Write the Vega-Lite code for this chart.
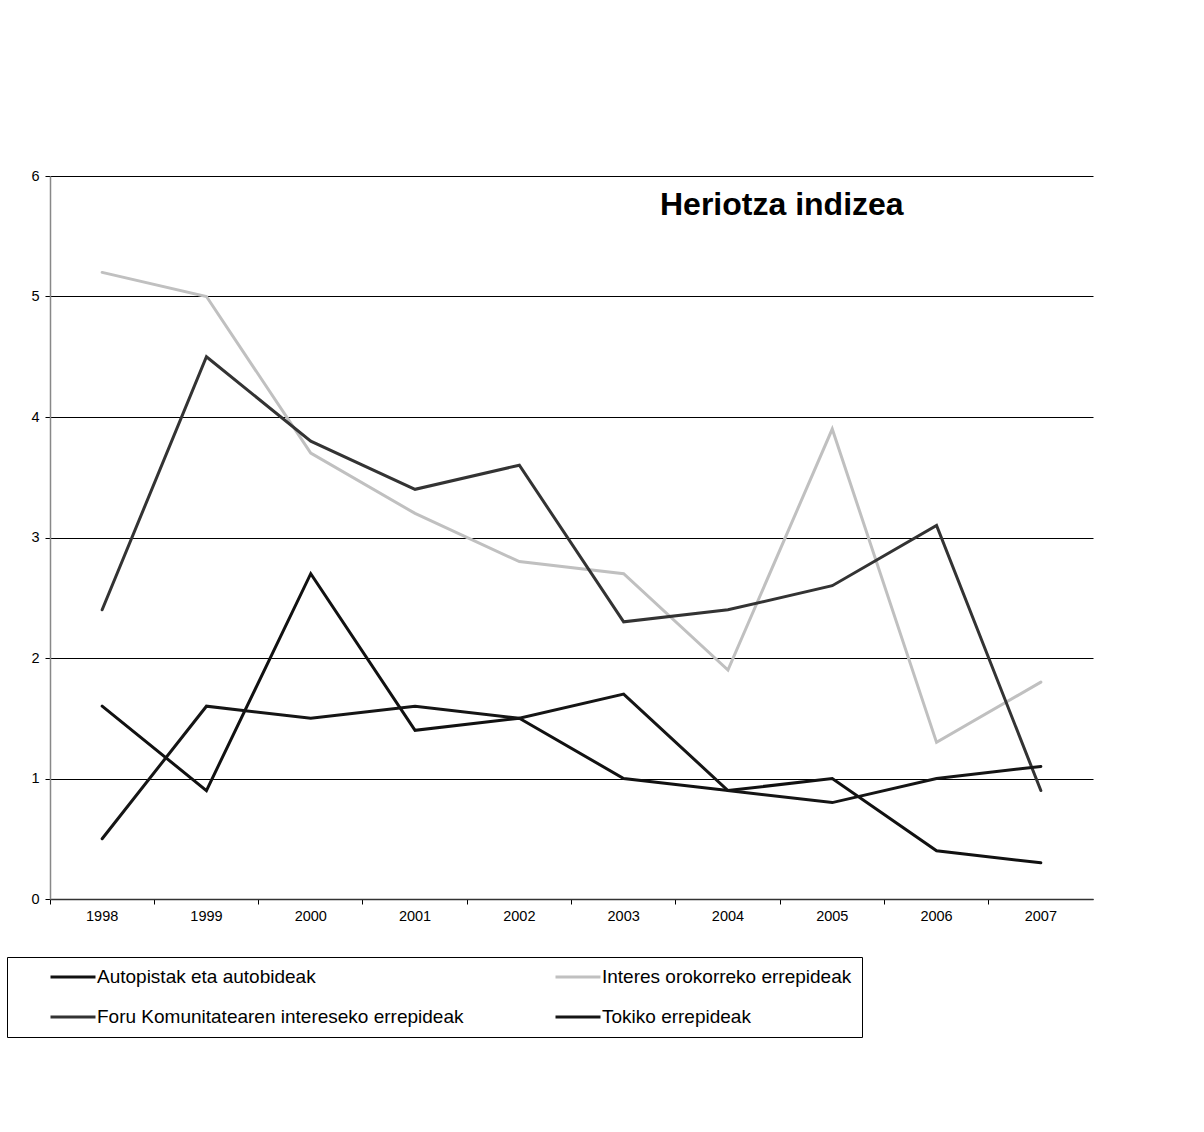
{
  "$schema": "https://vega.github.io/schema/vega-lite/v6.json",
  "width": 1043,
  "height": 723,
  "autosize": {"type": "none"},
  "padding": {"left": 50, "top": 176, "right": 111, "bottom": 233},
  "background": "white",
  "config": {
    "font": "Liberation Sans",
    "view": {"stroke": null},
    "axis": {"labelFont": "Liberation Sans", "labelColor": "#000", "labelFontSize": 14.5, "tickColor": "#000", "tickSize": 5}
  },
  "title": {
    "text": "Heriotza indizea",
    "anchor": "start",
    "frame": "group",
    "orient": "top",
    "offset": 0,
    "dx": 610,
    "dy": 79,
    "baseline": "alphabetic",
    "font": "Liberation Sans",
    "fontSize": 32,
    "fontWeight": "bold",
    "color": "#000"
  },
  "data": {
    "values": [
      {"year": "1998", "series": "Autopistak eta autobideak", "value": 1.6},
      {"year": "1999", "series": "Autopistak eta autobideak", "value": 0.9},
      {"year": "2000", "series": "Autopistak eta autobideak", "value": 2.7},
      {"year": "2001", "series": "Autopistak eta autobideak", "value": 1.4},
      {"year": "2002", "series": "Autopistak eta autobideak", "value": 1.5},
      {"year": "2003", "series": "Autopistak eta autobideak", "value": 1.0},
      {"year": "2004", "series": "Autopistak eta autobideak", "value": 0.9},
      {"year": "2005", "series": "Autopistak eta autobideak", "value": 1.0},
      {"year": "2006", "series": "Autopistak eta autobideak", "value": 0.4},
      {"year": "2007", "series": "Autopistak eta autobideak", "value": 0.3},
      {"year": "1998", "series": "Interes orokorreko errepideak", "value": 5.2},
      {"year": "1999", "series": "Interes orokorreko errepideak", "value": 5.0},
      {"year": "2000", "series": "Interes orokorreko errepideak", "value": 3.7},
      {"year": "2001", "series": "Interes orokorreko errepideak", "value": 3.2},
      {"year": "2002", "series": "Interes orokorreko errepideak", "value": 2.8},
      {"year": "2003", "series": "Interes orokorreko errepideak", "value": 2.7},
      {"year": "2004", "series": "Interes orokorreko errepideak", "value": 1.9},
      {"year": "2005", "series": "Interes orokorreko errepideak", "value": 3.9},
      {"year": "2006", "series": "Interes orokorreko errepideak", "value": 1.3},
      {"year": "2007", "series": "Interes orokorreko errepideak", "value": 1.8},
      {"year": "1998", "series": "Foru Komunitatearen intereseko errepideak", "value": 2.4},
      {"year": "1999", "series": "Foru Komunitatearen intereseko errepideak", "value": 4.5},
      {"year": "2000", "series": "Foru Komunitatearen intereseko errepideak", "value": 3.8},
      {"year": "2001", "series": "Foru Komunitatearen intereseko errepideak", "value": 3.4},
      {"year": "2002", "series": "Foru Komunitatearen intereseko errepideak", "value": 3.6},
      {"year": "2003", "series": "Foru Komunitatearen intereseko errepideak", "value": 2.3},
      {"year": "2004", "series": "Foru Komunitatearen intereseko errepideak", "value": 2.4},
      {"year": "2005", "series": "Foru Komunitatearen intereseko errepideak", "value": 2.6},
      {"year": "2006", "series": "Foru Komunitatearen intereseko errepideak", "value": 3.1},
      {"year": "2007", "series": "Foru Komunitatearen intereseko errepideak", "value": 0.9},
      {"year": "1998", "series": "Tokiko errepideak", "value": 0.5},
      {"year": "1999", "series": "Tokiko errepideak", "value": 1.6},
      {"year": "2000", "series": "Tokiko errepideak", "value": 1.5},
      {"year": "2001", "series": "Tokiko errepideak", "value": 1.6},
      {"year": "2002", "series": "Tokiko errepideak", "value": 1.5},
      {"year": "2003", "series": "Tokiko errepideak", "value": 1.7},
      {"year": "2004", "series": "Tokiko errepideak", "value": 0.9},
      {"year": "2005", "series": "Tokiko errepideak", "value": 0.8},
      {"year": "2006", "series": "Tokiko errepideak", "value": 1.0},
      {"year": "2007", "series": "Tokiko errepideak", "value": 1.1}
    ]
  },
  "mark": {"type": "line", "strokeWidth": 3, "strokeJoin": "miter", "strokeCap": "round"},
  "encoding": {
    "x": {
      "field": "year",
      "type": "nominal",
      "scale": {"type": "band", "paddingInner": 0, "paddingOuter": 0},
      "axis": {
        "title": null,
        "labelAngle": 0,
        "bandPosition": 0,
        "labelPadding": 5,
        "domainColor": "#333",
        "domainWidth": 1.5,
        "grid": false
      }
    },
    "y": {
      "field": "value",
      "type": "quantitative",
      "scale": {"domain": [0, 6], "nice": false},
      "axis": {
        "title": null,
        "values": [0, 1, 2, 3, 4, 5, 6],
        "format": "d",
        "labelPadding": 6,
        "domainColor": "#888",
        "domainWidth": 1.5,
        "grid": true,
        "gridColor": "#000",
        "gridOpacity": 1,
        "gridWidth": 1
      }
    },
    "color": {
      "field": "series",
      "type": "nominal",
      "scale": {
        "domain": ["Autopistak eta autobideak", "Foru Komunitatearen intereseko errepideak", "Interes orokorreko errepideak", "Tokiko errepideak"],
        "range": ["#111111", "#333333", "#c0c0c0", "#151515"]
      },
      "legend": {
        "title": null,
        "orient": "none",
        "legendX": -43,
        "legendY": 781,
        "direction": "vertical",
        "columns": 2,
        "gridAlign": "all",
        "columnPadding": 58,
        "rowPadding": 20,
        "padding": 10,
        "clipHeight": 20,
        "strokeColor": "#000",
        "fillColor": "#fff",
        "symbolType": "stroke",
        "symbolSize": 2025,
        "symbolStrokeWidth": 3,
        "symbolOffset": 32,
        "labelOffset": 0,
        "labelFont": "Liberation Sans",
        "labelFontSize": 19,
        "labelColor": "#000",
        "labelLimit": 800
      }
    }
  }
}
